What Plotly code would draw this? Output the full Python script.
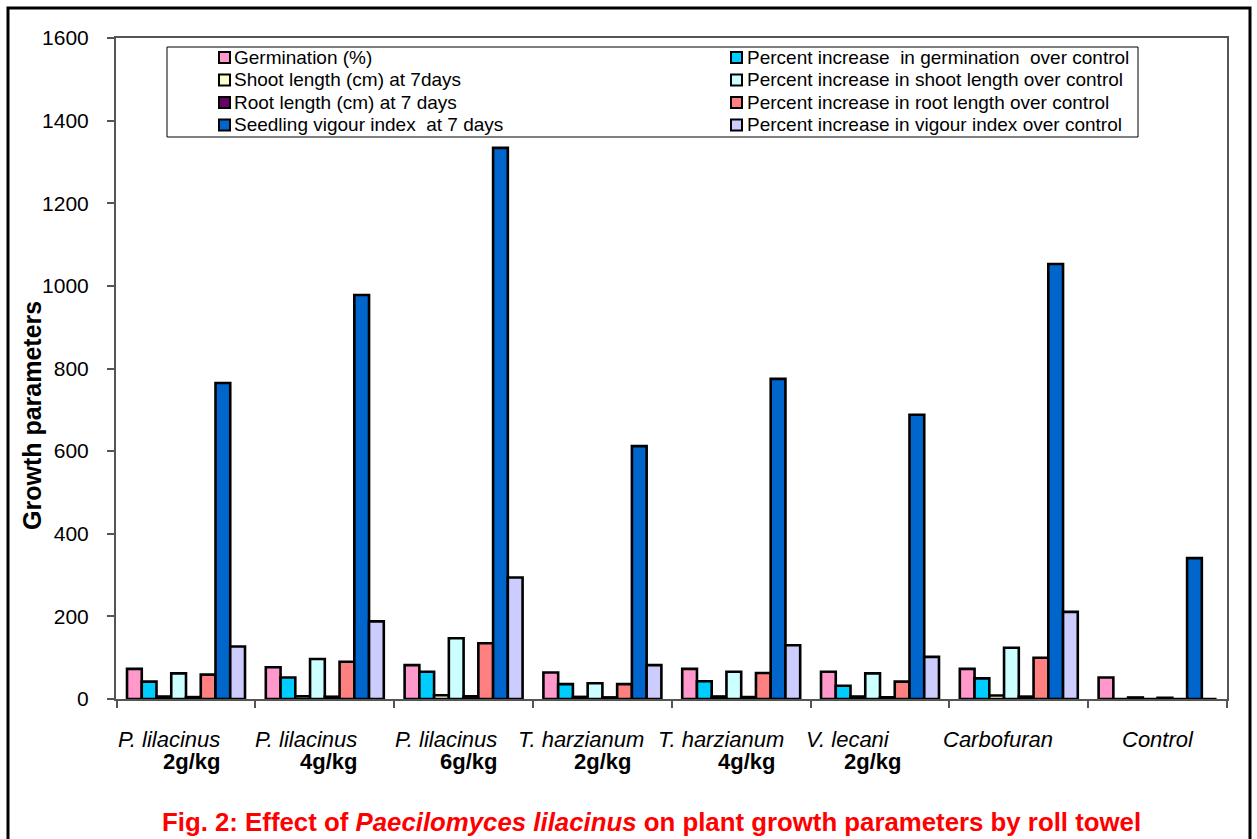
import plotly.graph_objects as go

# Treatments (x categories), split into species / dose lines for labelling
treatments = ["P. lilacinus 2g/kg", "P. lilacinus 4g/kg", "P. lilacinus 6g/kg",
              "T. harzianum 2g/kg", "T. harzianum 4g/kg", "V. lecani 2g/kg",
              "Carbofuran", "Control"]
species_lines = ["P. lilacinus", "P. lilacinus", "P. lilacinus", "T. harzianum",
                 "T. harzianum", "V. lecani", "Carbofuran", "Control"]
dose_lines = ["2g/kg", "4g/kg", "6g/kg", "2g/kg", "4g/kg", "2g/kg", "", ""]

# Series values
germination = [73, 77, 82, 64, 73, 66, 73, 52]
pct_germination = [42, 52, 66, 36, 43, 32, 50, 0]
shoot_length = [6.0, 6.6, 9.2, 5.1, 6.1, 6.0, 8.3, 3.7]
pct_shoot = [62, 97, 147, 38, 66, 62, 124, 0]
root_length = [4.6, 5.5, 6.8, 3.9, 4.7, 4.1, 5.8, 2.9]
pct_root = [59, 90, 135, 36, 63, 42, 100, 0]
vigour_index = [765, 978, 1334, 612, 775, 688, 1053, 341]
pct_vigour = [127, 188, 294, 82, 130, 102, 211, 0]

series_names = [
    "Germination (%)",
    "Percent increase\u00a0 in germination\u00a0 over control",
    "Shoot length (cm) at 7days",
    "Percent increase in shoot length over control",
    "Root length (cm) at 7 days",
    "Percent increase in root length over control",
    "Seedling vigour index\u00a0 at 7 days",
    "Percent increase in vigour index over control",
]
series_values = [germination, pct_germination, shoot_length, pct_shoot,
                 root_length, pct_root, vigour_index, pct_vigour]
series_colors = ["#FF99CC", "#00CCFF", "#FFFFCC", "#CCFFFF",
                 "#660066", "#FF8080", "#0066CC", "#CCCCFF"]

y_ticks = [0, 200, 400, 600, 800, 1000, 1200, 1400, 1600]

FONT = "Liberation Sans, Arial, sans-serif"
W, H = 1257, 839
L, R, T, B = 116, 30, 38, 140
PW, PH = W - L - R, H - T - B
AXIS_COLOR = "#555555"


def px_x(p):
    return (p - L) / PW


def px_y(p):
    return (H - B - p) / PH


fig = go.Figure()
for name, vals, col in zip(series_names, series_values, series_colors):
    fig.add_trace(go.Bar(
        x=treatments, y=vals, name=name,
        marker=dict(color=col, line=dict(color="black", width=2.6)),
        showlegend=False,
    ))

shapes = []
annotations = []

# Outer figure frame
shapes.append(dict(type="rect", xref="paper", yref="paper",
                   x0=px_x(8), x1=px_x(1250), y0=px_y(850), y1=px_y(8),
                   line=dict(color="black", width=3), fillcolor="rgba(0,0,0,0)",
                   layer="above"))

# Legend box with two columns of entries
shapes.append(dict(type="rect", xref="paper", yref="paper",
                   x0=px_x(167), x1=px_x(1138), y0=px_y(137), y1=px_y(47),
                   line=dict(color="black", width=1), fillcolor="white",
                   layer="above"))
row_y = [57.5, 80, 102.5, 125]
col_marker_x = [219, 731]
col_text_x = [232, 745]
for i, (name, col) in enumerate(zip(series_names, series_colors)):
    r, c = i // 2, i % 2
    cy = row_y[r]
    mx = col_marker_x[c]
    shapes.append(dict(type="rect", xref="paper", yref="paper",
                       x0=px_x(mx), x1=px_x(mx + 11), y0=px_y(cy + 5.5), y1=px_y(cy - 5.5),
                       line=dict(color="black", width=2), fillcolor=col,
                       layer="above"))
    annotations.append(dict(xref="paper", yref="paper", x=px_x(col_text_x[c]),
                            y=px_y(cy), text=name, showarrow=False,
                            xanchor="left", yanchor="middle",
                            font=dict(family=FONT, size=19, color="black")))

# Category labels: species in italics, dose in bold underneath
species_shift = [-17, -18.5, -17.5, -21, -20.5, -32.5, -20.5, 0.5]
dose_shift = [5.5, 4, 5, 0, 5.5, -8, 0, 0]
for t, sp, ds, s1, s2 in zip(treatments, species_lines, dose_lines,
                             species_shift, dose_shift):
    annotations.append(dict(xref="x", yref="paper", x=t, y=px_y(739),
                            text="<i>%s</i>" % sp, showarrow=False,
                            xanchor="center", yanchor="middle", xshift=s1,
                            font=dict(family=FONT, size=22, color="black")))
    if ds:
        annotations.append(dict(xref="x", yref="paper", x=t, y=px_y(761),
                                text="<b>%s</b>" % ds, showarrow=False,
                                xanchor="center", yanchor="middle", xshift=s2,
                                font=dict(family=FONT, size=22, color="black")))

# Figure caption
annotations.append(dict(
    xref="paper", yref="paper", x=px_x(651), y=px_y(822),
    text="<b>Fig. 2: Effect of <i>Paecilomyces lilacinus</i> on plant growth parameters by roll towel</b>",
    showarrow=False, xanchor="center", yanchor="middle",
    font=dict(family=FONT, size=25.8, color="#FF0000")))

# Y axis title
annotations.append(dict(
    xref="paper", yref="paper", x=px_x(32), y=px_y(416),
    text="<b>Growth parameters</b>", textangle=-90, showarrow=False,
    xanchor="center", yanchor="middle",
    font=dict(family=FONT, size=25, color="black")))

fig.update_layout(
    width=W, height=H,
    margin=dict(l=L, r=R, t=T, b=B, pad=0),
    paper_bgcolor="white", plot_bgcolor="white",
    barmode="group", bargap=0.15, bargroupgap=0,
    shapes=shapes, annotations=annotations,
    xaxis=dict(type="category", showticklabels=False, tickson="boundaries",
               ticks="outside", ticklen=7, tickcolor=AXIS_COLOR, tickwidth=1.5,
               showline=True, linecolor=AXIS_COLOR, linewidth=2, mirror=True,
               showgrid=False, zeroline=False),
    yaxis=dict(range=[0, 1600], tickvals=y_ticks, ticks="outside", ticklen=7,
               tickcolor=AXIS_COLOR, tickwidth=1.5, showline=True,
               linecolor=AXIS_COLOR, linewidth=2, mirror=True, showgrid=False,
               zeroline=False, ticklabelstandoff=14,
               tickfont=dict(family=FONT, size=21, color="black")),
)

fig.write_html("out.html")
